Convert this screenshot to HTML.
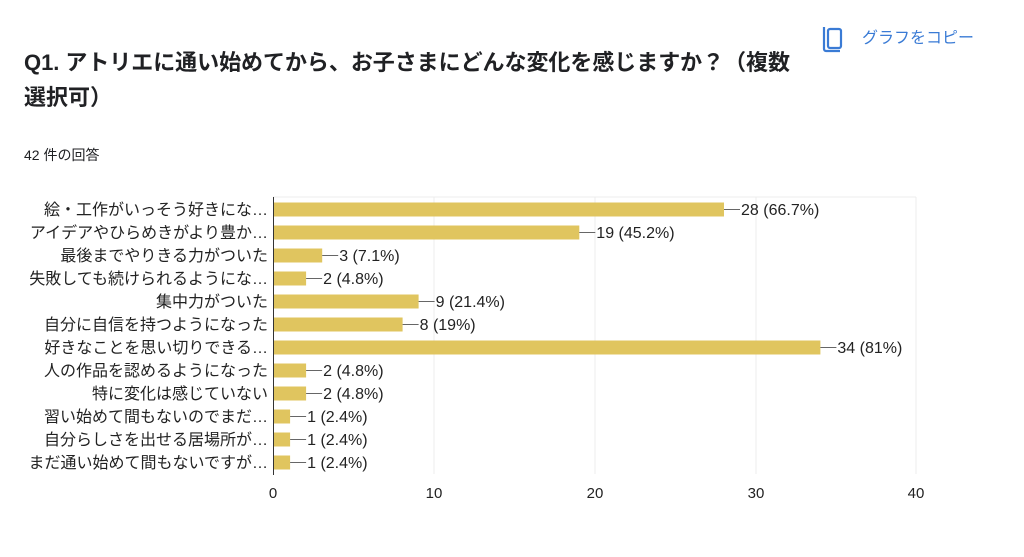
<!DOCTYPE html><html><head><meta charset="utf-8"><style>
body{margin:0;background:#fff;width:1024px;height:552px;overflow:hidden;font-family:"Liberation Sans","Noto Sans CJK JP",sans-serif}
</style></head><body>
<svg width="1024" height="552" xmlns="http://www.w3.org/2000/svg" font-family="Liberation Sans, Noto Sans CJK JP, sans-serif">
<g fill="none" stroke="#3a7bd5" stroke-width="2.2"><rect x="828" y="29" width="13" height="19" rx="2"/><path d="M824 27v22a2 2 0 0 0 2 2h14"/></g>
<text x="862" y="43" font-size="16" fill="#3a7bd5">グラフをコピー</text>
<text x="24" y="70" font-size="22" font-weight="bold" fill="#202124" textLength="766">Q1. アトリエに通い始めてから、お子さまにどんな変化を感じますか？（複数</text>
<text x="24" y="105" font-size="22" font-weight="bold" fill="#202124">選択可）</text>
<text x="24" y="160" font-size="14" fill="#202124">42 件の回答</text>
<g stroke="#ececec"><line x1="434" y1="197" x2="434" y2="474"/><line x1="595" y1="197" x2="595" y2="474"/><line x1="756" y1="197" x2="756" y2="474"/><line x1="916" y1="197" x2="916" y2="474"/><line x1="273" y1="197" x2="916" y2="197"/></g>
<g font-size="15" fill="#222">
<text x="273" y="498" text-anchor="middle">0</text><text x="434" y="498" text-anchor="middle">10</text><text x="595" y="498" text-anchor="middle">20</text><text x="756" y="498" text-anchor="middle">30</text><text x="916" y="498" text-anchor="middle">40</text>
</g>
<g fill="#e0c55f">
<rect x="274" y="202.5" width="450" height="14"/>
<rect x="274" y="225.5" width="305.3" height="14"/>
<rect x="274" y="248.5" width="48.2" height="14"/>
<rect x="274" y="271.5" width="32.1" height="14"/>
<rect x="274" y="294.5" width="144.6" height="14"/>
<rect x="274" y="317.5" width="128.6" height="14"/>
<rect x="274" y="340.5" width="546.4" height="14"/>
<rect x="274" y="363.5" width="32.1" height="14"/>
<rect x="274" y="386.5" width="32.1" height="14"/>
<rect x="274" y="409.5" width="16.1" height="14"/>
<rect x="274" y="432.5" width="16.1" height="14"/>
<rect x="274" y="455.5" width="16.1" height="14"/>
</g>
<g stroke="#666">
<line x1="724" y1="209.5" x2="740" y2="209.5"/>
<line x1="579.3" y1="232.5" x2="595.3" y2="232.5"/>
<line x1="322.2" y1="255.5" x2="338.2" y2="255.5"/>
<line x1="306.1" y1="278.5" x2="322.1" y2="278.5"/>
<line x1="418.6" y1="301.5" x2="434.6" y2="301.5"/>
<line x1="402.6" y1="324.5" x2="418.6" y2="324.5"/>
<line x1="820.4" y1="347.5" x2="836.4" y2="347.5"/>
<line x1="306.1" y1="370.5" x2="322.1" y2="370.5"/>
<line x1="306.1" y1="393.5" x2="322.1" y2="393.5"/>
<line x1="290.1" y1="416.5" x2="306.1" y2="416.5"/>
<line x1="290.1" y1="439.5" x2="306.1" y2="439.5"/>
<line x1="290.1" y1="462.5" x2="306.1" y2="462.5"/>
</g>
<line x1="273.5" y1="197" x2="273.5" y2="475" stroke="#333"/>
<g font-size="16" fill="#222">
<text x="741" y="215">28 (66.7%)</text>
<text x="596.3" y="238">19 (45.2%)</text>
<text x="339.2" y="261">3 (7.1%)</text>
<text x="323.1" y="284">2 (4.8%)</text>
<text x="435.6" y="307">9 (21.4%)</text>
<text x="419.6" y="330">8 (19%)</text>
<text x="837.4" y="353">34 (81%)</text>
<text x="323.1" y="376">2 (4.8%)</text>
<text x="323.1" y="399">2 (4.8%)</text>
<text x="307.1" y="422">1 (2.4%)</text>
<text x="307.1" y="445">1 (2.4%)</text>
<text x="307.1" y="468">1 (2.4%)</text>
</g>
<g font-size="16" fill="#222" text-anchor="end">
<text x="268" y="215">絵・工作がいっそう好きにな…</text>
<text x="268" y="238">アイデアやひらめきがより豊か…</text>
<text x="268" y="261">最後までやりきる力がついた</text>
<text x="268" y="284">失敗しても続けられるようにな…</text>
<text x="268" y="307">集中力がついた</text>
<text x="268" y="330">自分に自信を持つようになった</text>
<text x="268" y="353">好きなことを思い切りできる…</text>
<text x="268" y="376">人の作品を認めるようになった</text>
<text x="268" y="399">特に変化は感じていない</text>
<text x="268" y="422">習い始めて間もないのでまだ…</text>
<text x="268" y="445">自分らしさを出せる居場所が…</text>
<text x="268" y="468">まだ通い始めて間もないですが…</text>
</g>
</svg>
</body></html>
